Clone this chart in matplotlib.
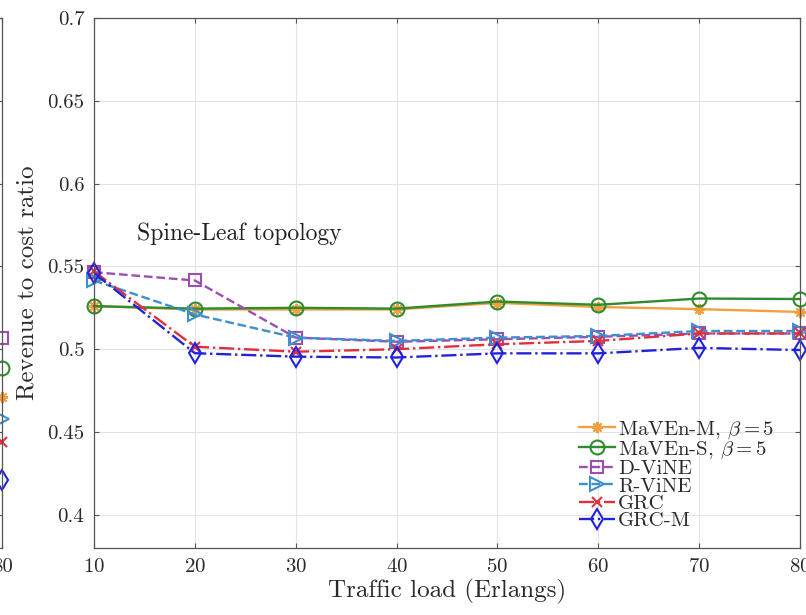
import matplotlib
matplotlib.use("Agg")
import matplotlib.pyplot as plt

plt.rcParams["font.family"] = "cmr10"
plt.rcParams["mathtext.fontset"] = "cm"
plt.rcParams["axes.formatter.use_mathtext"] = True

# traffic load (Erlangs)
load = [10, 20, 30, 40, 50, 60, 70, 80]

# revenue to cost ratio, spine-leaf topology
maven_m = [0.526, 0.524, 0.524, 0.524, 0.528, 0.5255, 0.5242, 0.5225]
maven_s = [0.526, 0.5245, 0.525, 0.5245, 0.5288, 0.5268, 0.5306, 0.5303]
d_vine = [0.5465, 0.5415, 0.507, 0.5045, 0.506, 0.5075, 0.5095, 0.5095]
r_vine = [0.5415, 0.521, 0.507, 0.505, 0.507, 0.508, 0.511, 0.511]
grc = [0.547, 0.5015, 0.4985, 0.5, 0.503, 0.505, 0.5095, 0.5095]
grc_m = [0.546, 0.4976, 0.4955, 0.495, 0.4975, 0.4975, 0.5008, 0.4995]

# last points of the neighbouring panel (only the edge is visible)
prev_last = [0.471, 0.4885, 0.5066, 0.458, 0.444, 0.421]

names = ["MaVEn-M, $\\beta = 5$", "MaVEn-S, $\\beta = 5$", "D-ViNE", "R-ViNE", "GRC", "GRC-M"]
colors = ["#F0A040", "#2E8B2E", "#9B4FB0", "#3C8FD0", "#E0303C", "#2222DD"]
markers = [(8, 2, 0), "o", "s", ">", "x", "d"]
styles = ["-", "-", "--", "--", "-.", "-."]
msizes = [8, 10, 9, 10, 7, 10]
series = [maven_m, maven_s, d_vine, r_vine, grc, grc_m]

fig = plt.figure(figsize=(8.06, 6.15), dpi=100)
pos = [0.1166, 0.109, 0.876, 0.8618]


def style_axes(ax):
    ax.set_xlim(10, 80)
    ax.set_ylim(0.38, 0.7)
    ax.set_xticks(load)
    ax.set_yticks([0.4, 0.45, 0.5, 0.55, 0.6, 0.65, 0.7])
    ax.set_yticklabels(["0.4", "0.45", "0.5", "0.55", "0.6", "0.65", "0.7"])
    ax.grid(True, color="#e3e3e3", linewidth=0.8)
    ax.set_axisbelow(True)
    ax.tick_params(direction="in", top=True, right=True, labelsize=15,
                   color="#555555", labelcolor="#2a2a2a", pad=7)
    for s in ax.spines.values():
        s.set_color("#555555")
        s.set_linewidth(0.9)


# left panel, cut off by the picture edge
ax0 = fig.add_axes([0.003 - pos[2], pos[1], pos[2], pos[3]])
style_axes(ax0)
ax0.tick_params(labelleft=False)
ax0.set_xticklabels([""] * 7 + ["80"])
for v, c, m, ms in zip(prev_last, colors, markers, msizes):
    ax0.plot([80], [v], linestyle="none", marker=m, color=c, markersize=ms,
             markerfacecolor="none", markeredgewidth=1.5, clip_on=False)

ax = fig.add_axes(pos)
style_axes(ax)
for y, n, c, m, ls, ms in zip(series, names, colors, markers, styles, msizes):
    ax.plot(load, y, linestyle=ls, marker=m, color=c, label=n, linewidth=1.7,
            markersize=ms, markerfacecolor="none", markeredgewidth=1.5,
            clip_on=False)

ax.text(14.3, 0.570, "Spine-Leaf topology", fontsize=17, va="center",
        color="#222222")
ax.set_xlabel("Traffic load (Erlangs)", fontsize=18, color="#2a2a2a",
              labelpad=2)
ax.set_ylabel("Revenue to cost ratio", fontsize=18, color="#2a2a2a",
              labelpad=6)

leg = ax.legend(loc="lower right", frameon=False, fontsize=15,
                handlelength=1.7, handletextpad=0.15, labelspacing=-0.06,
                bbox_to_anchor=(0.99, -0.002))
for t in leg.get_texts():
    t.set_color("#2a2a2a")

fig.savefig("out.png", dpi=100)
